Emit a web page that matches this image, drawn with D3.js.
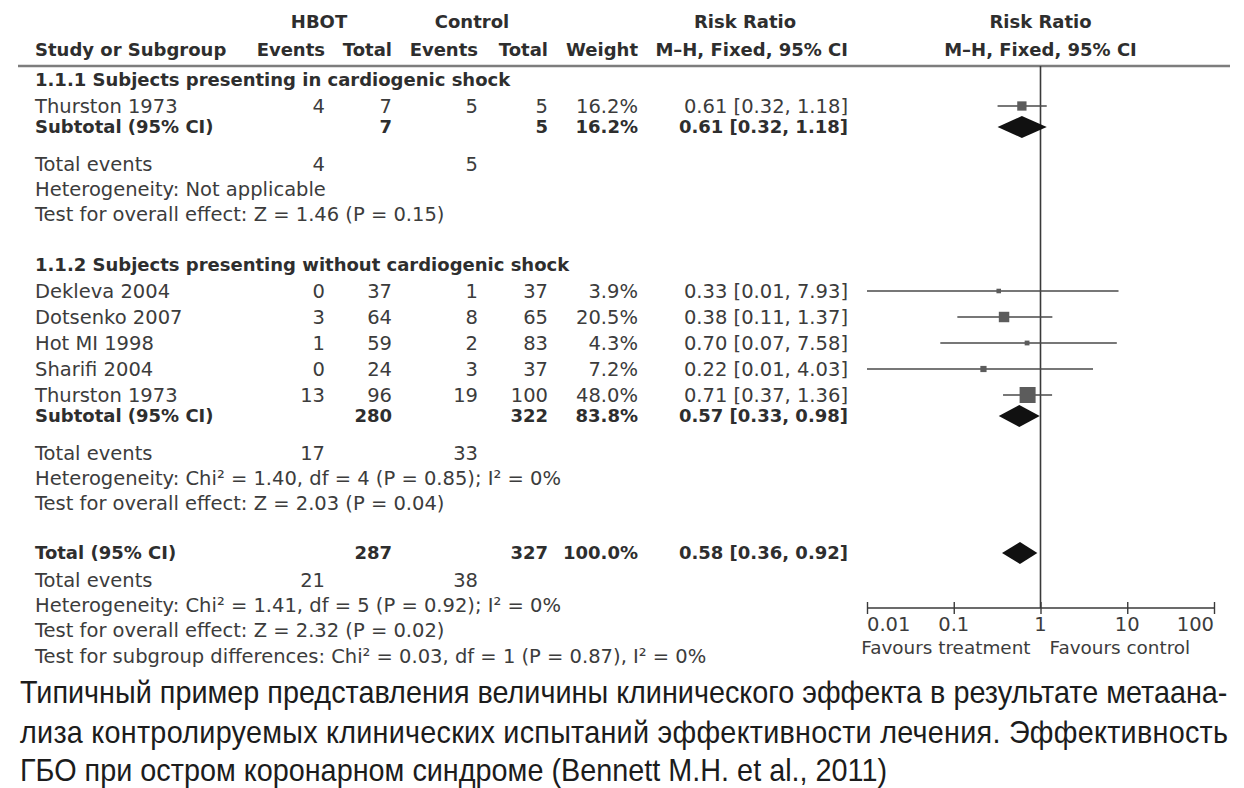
<!DOCTYPE html>
<html><head><meta charset="utf-8">
<script src="https://cdn.jsdelivr.net/npm/d3@7"></script>
<style>body{margin:0;background:#fff}svg{display:block}</style>
</head><body>
<svg id="chart" width="1244" height="788"></svg>
<script>
// ---------- data ----------
const studyNames  = ["Thurston 1973","Dekleva 2004","Dotsenko 2007","Hot MI 1998","Sharifi 2004","Thurston 1973"];
const studyGroup  = [0,1,1,1,1,1];
const hbotEvents  = [4,0,3,1,0,13];
const hbotTotal   = [7,37,64,59,24,96];
const ctrlEvents  = [5,1,8,2,3,19];
const ctrlTotal   = [5,37,65,83,37,100];
const weights     = [16.2,3.9,20.5,4.3,7.2,48.0];
const riskRatio   = [0.61,0.33,0.38,0.70,0.22,0.71];
const ciLow       = [0.32,0.01,0.11,0.07,0.01,0.37];
const ciHigh      = [1.18,7.93,1.37,7.58,4.03,1.36];

const groupTitles   = ["1.1.1 Subjects presenting in cardiogenic shock","1.1.2 Subjects presenting without cardiogenic shock"];
const subHbotTotal  = [7,280];
const subCtrlTotal  = [5,322];
const subWeight     = [16.2,83.8];
const subRR         = [0.61,0.57];
const subLow        = [0.32,0.33];
const subHigh       = [1.18,0.98];
const subHbotEvents = [4,17];
const subCtrlEvents = [5,33];
const subHetero     = ["Heterogeneity: Not applicable","Heterogeneity: Chi\u00B2 = 1.40, df = 4 (P = 0.85); I\u00B2 = 0%"];
const subTest       = ["Test for overall effect: Z = 1.46 (P = 0.15)","Test for overall effect: Z = 2.03 (P = 0.04)"];

const totalCounts   = [287,327];        // HBOT total, control total
const totalEvents   = [21,38];          // HBOT events, control events
const totalWeight   = [100.0];
const totalRR       = [0.58,0.36,0.92]; // estimate, low, high
const totalHetero   = "Heterogeneity: Chi\u00B2 = 1.41, df = 5 (P = 0.92); I\u00B2 = 0%";
const totalTest     = "Test for overall effect: Z = 2.32 (P = 0.02)";
const subgroupTest  = "Test for subgroup differences: Chi\u00B2 = 0.03, df = 1 (P = 0.87), I\u00B2 = 0%";

const axisTicks      = [0.01,0.1,1,10,100];
const axisTickLabels = ["0.01","0.1","1","10","100"];
const favourLabels   = ["Favours treatment","Favours control"];

const captionLines = [
  "Типичный пример представления величины клинического эффекта в результате метаана-",
  "лиза контролируемых клинических испытаний эффективности лечения. Эффективность",
  "ГБО при остром коронарном синдроме (Bennett M.H. et al., 2011)"
];

// ---------- layout ----------
const svg = d3.select("#chart");
const FONT = "'DejaVu Sans', sans-serif";
const FS = 19.5, FSB = 18.0;
const TXT = "#3c3c3c", TXTB = "#2e2e2e";
const col = {name:35, hEv:325, hTot:392, cEv:478, cTot:548, w:638, rr:848};

function t(x, y, s, anchor="start", bold=false, size=null){
  const fs = size || (bold ? FSB : FS);
  return svg.append("text").attr("x",x).attr("y",y + fs*0.36)
    .attr("text-anchor",anchor).attr("font-family",FONT)
    .attr("font-size",fs).attr("font-weight",bold?"bold":"normal")
    .attr("fill",bold?TXTB:TXT).text(s);
}
const fmtW = w => d3.format(".1f")(w) + "%";
const fmtRR = (r,l,h) => `${r.toFixed(2)} [${l.toFixed(2)}, ${h.toFixed(2)}]`;

const x = d3.scaleLog().domain([0.01,100]).range([867,1214]);
const sq = d3.scaleSqrt().domain([0,48]).range([0,16]);

// header
t(319,22,"HBOT","middle",true);
t(472,22,"Control","middle",true);
t(745,22,"Risk Ratio","middle",true);
t(x(1),22,"Risk Ratio","middle",true);
t(col.name,50,"Study or Subgroup","start",true);
t(col.hEv,50,"Events","end",true);
t(col.hTot,50,"Total","end",true);
t(col.cEv,50,"Events","end",true);
t(col.cTot,50,"Total","end",true);
t(col.w,50,"Weight","end",true);
t(col.rr,50,"M\u2013H, Fixed, 95% CI","end",true);
t(x(1),50,"M\u2013H, Fixed, 95% CI","middle",true);

const ruleY = 66, axisY = 608;
svg.append("line").attr("x1",18).attr("x2",1230).attr("y1",ruleY).attr("y2",ruleY)
  .attr("stroke","#7d7d7d").attr("stroke-width",2.6);

// vertical line of no effect
svg.append("line").attr("x1",x(1)).attr("x2",x(1)).attr("y1",ruleY).attr("y2",axisY)
  .attr("stroke","#3a3a3a").attr("stroke-width",1.6);

function diamond(y, r, l, h, hh=11){
  svg.append("path")
    .attr("d",`M${x(l)},${y}L${x(r)},${y-hh}L${x(h)},${y}L${x(r)},${y+hh}Z`)
    .attr("fill","#111");
}

// rows
let y = 80;
groupTitles.forEach((g,gi)=>{
  t(col.name,y,g,"start",true);
  y += 26;
  const idx = studyNames.map((_,i)=>i).filter(i=>studyGroup[i]===gi);
  idx.forEach((i,k)=>{
    if(k>0) y += 26;
    t(col.name,y,studyNames[i]);
    t(col.hEv,y,hbotEvents[i],"end");
    t(col.hTot,y,hbotTotal[i],"end");
    t(col.cEv,y,ctrlEvents[i],"end");
    t(col.cTot,y,ctrlTotal[i],"end");
    t(col.w,y,fmtW(weights[i]),"end");
    t(col.rr,y,fmtRR(riskRatio[i],ciLow[i],ciHigh[i]),"end");
    svg.append("line").attr("x1",x(ciLow[i])).attr("x2",x(ciHigh[i]))
      .attr("y1",y).attr("y2",y).attr("stroke","#4a4a4a").attr("stroke-width",1.5);
    const s = Math.max(4, sq(weights[i]));
    svg.append("rect").attr("x",x(riskRatio[i])-s/2).attr("y",y-s/2)
      .attr("width",s).attr("height",s).attr("fill","#5c5c5c");
  });
  y += 21;
  t(col.name,y,"Subtotal (95% CI)","start",true);
  t(col.hTot,y,subHbotTotal[gi],"end",true);
  t(col.cTot,y,subCtrlTotal[gi],"end",true);
  t(col.w,y,fmtW(subWeight[gi]),"end",true);
  t(col.rr,y,fmtRR(subRR[gi],subLow[gi],subHigh[gi]),"end",true);
  diamond(y,subRR[gi],subLow[gi],subHigh[gi]);
  y += 37;
  t(col.name,y,"Total events");
  t(col.hEv,y,subHbotEvents[gi],"end");
  t(col.cEv,y,subCtrlEvents[gi],"end");
  y += 25;
  t(col.name,y,subHetero[gi]);
  y += 25;
  t(col.name,y,subTest[gi]);
  y += 51;
});
y -= 1;
t(col.name,y,"Total (95% CI)","start",true);
t(col.hTot,y,totalCounts[0],"end",true);
t(col.cTot,y,totalCounts[1],"end",true);
t(col.w,y,fmtW(totalWeight[0]),"end",true);
t(col.rr,y,fmtRR(totalRR[0],totalRR[1],totalRR[2]),"end",true);
diamond(y,totalRR[0],totalRR[1],totalRR[2]);
y += 27;
t(col.name,y,"Total events");
t(col.hEv,y,totalEvents[0],"end");
t(col.cEv,y,totalEvents[1],"end");
y += 25; t(col.name,y,totalHetero);
y += 25; t(col.name,y,totalTest);
y += 26; t(col.name,y,subgroupTest);

// axis
const axis = d3.axisBottom(x).tickValues(axisTicks).tickSize(6).tickFormat("");
const ag = svg.append("g").attr("transform",`translate(0,${axisY})`).call(axis);
ag.select(".domain").attr("stroke","#3a3a3a").attr("stroke-width",1.6).attr("d",`M${x(0.01)},0H${x(100)}`);
ag.selectAll(".tick line").attr("y1",-6).attr("y2",6).attr("stroke","#3a3a3a").attr("stroke-width",1.4);
axisTicks.forEach((v,i)=>{
  const anchor = i===0 ? "start" : (i===axisTicks.length-1 ? "end" : "middle");
  t(x(v), 624, axisTickLabels[i], anchor);
});
t(x(1)-10, 647, favourLabels[0], "end", false, 18.4);
t(x(1)+9, 647, favourLabels[1], "start", false, 18.4);

// caption
const capFont = "'Liberation Sans', Arial, sans-serif";
const capSize = 30.5;
const capY = [703, 743, 781];
const capLeft = 20, capRight = 1228;
const cap = svg.append("g");
const first = cap.append("text").attr("font-family",capFont).attr("font-size",capSize).text(captionLines[0]);
const natural = first.node().getComputedTextLength();
first.remove();
const sx = (capRight-capLeft)/natural;
captionLines.forEach((line,i)=>{
  const el = cap.append("text").attr("font-family",capFont).attr("font-size",capSize)
    .attr("fill","#1c1c1c")
    .attr("transform",`translate(${capLeft},${capY[i]}) scale(${sx},1)`)
    .text(line);
  if(i===1){
    el.attr("textLength",(capRight-capLeft)/sx).attr("lengthAdjust","spacing");
  }
});
</script>
</body></html>
